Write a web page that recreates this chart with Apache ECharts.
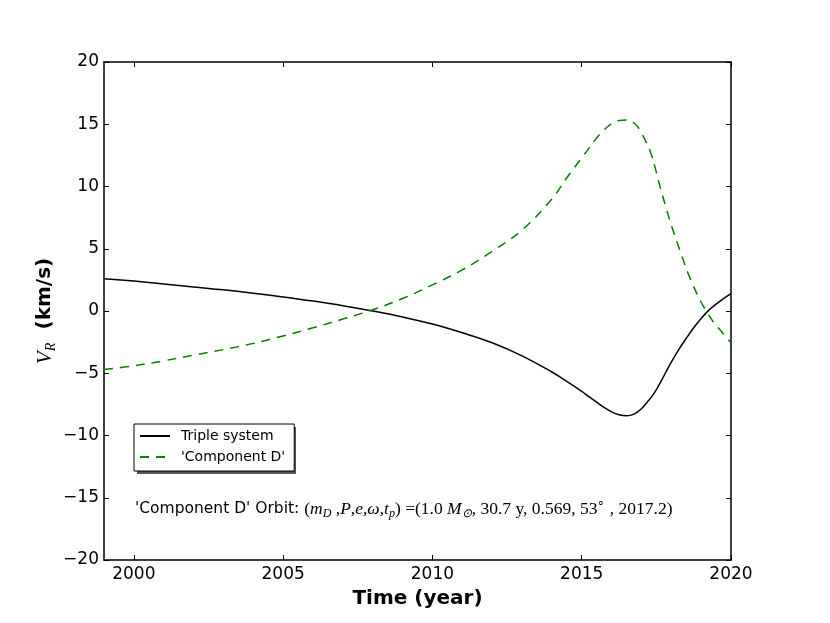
<!DOCTYPE html>
<html>
<head>
<meta charset="utf-8">
<script src="https://cdn.jsdelivr.net/npm/echarts@6.0.0/dist/echarts.min.js"></script>
<style>
  html, body { margin: 0; padding: 0; background: #fff; }
  #chart { width: 830px; height: 623px; }
</style>
</head>
<body>
<div id="chart"></div>
<script>
// values
var tripleYears = [1999, 2000, 2001, 2002, 2003, 2004, 2005, 2006, 2007, 2008, 2009, 2010,
    2011, 2012, 2013, 2014, 2014.5, 2015, 2015.25, 2015.5, 2015.75, 2016, 2016.25, 2016.5,
    2016.75, 2017, 2017.2, 2017.4, 2017.6, 2017.8, 2018, 2018.25, 2018.5, 2018.75,
    2019, 2019.25, 2019.5, 2019.75, 2020];
var tripleVr = [2.60, 2.40, 2.17, 1.93, 1.70, 1.43, 1.13, 0.80, 0.43, 0.00, -0.48, -1.05,
    -1.75, -2.55, -3.60, -4.90, -5.65, -6.45, -6.90, -7.32, -7.75, -8.10, -8.33, -8.42,
    -8.28, -7.85, -7.30, -6.70, -5.90, -5.00, -4.10, -3.10, -2.20, -1.35,
    -0.60, 0.05, 0.55, 1.00, 1.40];

var compYears = [1999, 2000, 2001, 2002, 2003, 2004, 2005, 2006, 2007, 2008, 2009, 2010,
    2011, 2012, 2013, 2014, 2014.5, 2015, 2015.25, 2015.5, 2015.75, 2016, 2016.25, 2016.5,
    2016.8, 2017, 2017.15, 2017.3, 2017.45, 2017.6, 2017.8, 2018, 2018.3, 2018.6,
    2019, 2019.2, 2019.4, 2019.7, 2020];
var compVr = [-4.70, -4.40, -4.00, -3.55, -3.10, -2.60, -2.00, -1.35, -0.65, 0.10, 1.00, 2.10,
    3.30, 4.80, 6.50, 9.00, 10.70, 12.30, 13.10, 13.90, 14.55, 15.05, 15.30, 15.35,
    15.00, 14.30, 13.60, 12.80, 11.60, 10.20, 8.50, 6.90, 4.80, 2.80,
    0.70, -0.10, -0.85, -1.70, -2.55];

var xTicks = [2000, 2005, 2010, 2015, 2020];
var seriesNames = ['Triple system', "'Component D'"];

function pairs(xs, ys) {
    var out = [];
    for (var i = 0; i < xs.length; i++) {
        out.push([xs[i], ys[i]]);
    }
    return out;
}

var sans = 'DejaVu Sans';
var serif = 'Liberation Serif';

var frame = { show: true, onZero: false, lineStyle: { color: '#000', width: 1.5 } };
var tickLine = { color: '#000', width: 1 };

var myChart = echarts.init(document.getElementById('chart'));
myChart.setOption({
    animation: false,
    backgroundColor: '#fff',
    grid: { left: 104, right: 99, top: 62, bottom: 63 },
    // drop shadow behind the legend box
    graphic: [{
        type: 'rect',
        left: 137,
        top: 427,
        z: 3,
        shape: { width: 159, height: 47 },
        style: { fill: '#555' }
    }],
    title: {
        left: 135,
        top: 498,
        padding: 0,
        text: "{s|'Component D' Orbit: }{r|(}{i|m}{sub|D}{r| ,}{i|P}{r|,}{i|e}{r|,}{i|ω}{r|,}{i|t}{sub|p}{r|) =(1.0 }{i|M}{sub|⊙}{r|, 30.7 y, 0.569, 53}{sup|∘}{r| , 2017.2)}",
        textStyle: {
            rich: {
                s: { fontFamily: sans, fontSize: 15.5, fontWeight: 'normal', color: '#000', lineHeight: 22, verticalAlign: 'middle' },
                r: { fontFamily: serif, fontSize: 17.5, fontWeight: 'normal', color: '#000', lineHeight: 22, verticalAlign: 'middle' },
                i: { fontFamily: serif, fontSize: 17.5, fontWeight: 'normal', fontStyle: 'italic', color: '#000', lineHeight: 22, verticalAlign: 'middle' },
                sub: { fontFamily: serif, fontSize: 12, fontWeight: 'normal', fontStyle: 'italic', color: '#000', lineHeight: 12, verticalAlign: 'bottom' },
                sup: { fontFamily: serif, fontSize: 12, fontWeight: 'normal', color: '#000', lineHeight: 12, verticalAlign: 'top' }
            }
        }
    },
    legend: {
        data: seriesNames,
        orient: 'vertical',
        left: 134,
        top: 424,
        z: 4,
        padding: [5, 9, 7, 5],
        itemWidth: 30,
        itemHeight: 14,
        itemGap: 7,
        backgroundColor: '#fff',
        borderColor: '#000',
        borderWidth: 1,
        borderRadius: 0,
        itemStyle: { opacity: 0 },
        textStyle: { fontFamily: sans, fontSize: 14, color: '#000', padding: [0, 0, 0, 6] }
    },
    xAxis: [
        {
            type: 'value',
            min: 1999,
            max: 2020,
            name: 'Time (year)',
            nameLocation: 'middle',
            nameGap: 29,
            nameMoveOverlap: false,
            nameTextStyle: { fontFamily: sans, fontSize: 20, fontWeight: 'bold', color: '#000' },
            axisLine: frame,
            axisTick: { show: true, inside: true, length: 5, lineStyle: tickLine, customValues: xTicks },
            axisLabel: {
                fontFamily: sans, fontSize: 17, color: '#000', margin: 6, customValues: xTicks,
                formatter: function (v) { return String(v); }
            },
            splitLine: { show: false }
        },
        {
            type: 'value',
            position: 'top',
            min: 1999,
            max: 2020,
            axisLine: frame,
            axisTick: { show: true, inside: true, length: 5, lineStyle: tickLine, customValues: xTicks },
            axisLabel: { show: false, customValues: xTicks },
            splitLine: { show: false }
        }
    ],
    yAxis: [
        {
            type: 'value',
            min: -20,
            max: 20,
            interval: 5,
            name: '{v|V}{r|R}{g|   }{b|(km/s)}',
            nameLocation: 'middle',
            nameRotate: 90,
            nameGap: 46,
            nameMoveOverlap: false,
            nameTextStyle: {
                rich: {
                    v: { fontFamily: serif, fontSize: 21, fontStyle: 'italic', color: '#000', lineHeight: 26, verticalAlign: 'middle' },
                    r: { fontFamily: serif, fontSize: 14, fontStyle: 'italic', color: '#000', lineHeight: 14, verticalAlign: 'bottom' },
                    g: { fontFamily: sans, fontSize: 14, lineHeight: 26 },
                    b: { fontFamily: sans, fontSize: 20, fontWeight: 'bold', color: '#000', lineHeight: 26, verticalAlign: 'middle' }
                }
            },
            axisLine: frame,
            axisTick: { show: true, inside: true, length: 5, lineStyle: tickLine },
            axisLabel: {
                fontFamily: sans, fontSize: 17, color: '#000', margin: 5,
                formatter: function (v) { return String(v).replace('-', '\u2212'); }
            },
            splitLine: { show: false }
        },
        {
            type: 'value',
            position: 'right',
            min: -20,
            max: 20,
            interval: 5,
            axisLine: frame,
            axisTick: { show: true, inside: true, length: 5, lineStyle: tickLine },
            axisLabel: { show: false },
            splitLine: { show: false }
        }
    ],
    series: [
        {
            name: seriesNames[0],
            type: 'line',
            data: pairs(tripleYears, tripleVr),
            symbol: 'none',
            smooth: 0.4,
            lineStyle: { color: '#000', width: 1.5 },
            itemStyle: { color: '#000' }
        },
        {
            name: seriesNames[1],
            type: 'line',
            data: pairs(compYears, compVr),
            symbol: 'none',
            smooth: 0.4,
            lineStyle: { color: '#008000', width: 1.5, type: [9, 7] },
            itemStyle: { color: '#008000' }
        }
    ]
});
</script>
</body>
</html>
